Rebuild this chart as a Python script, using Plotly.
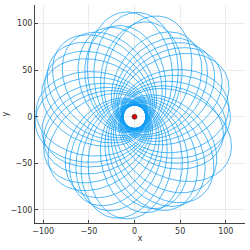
import numpy as np
import plotly.graph_objects as go

# Orbit description
periapsis = 12.5                 # radius of the empty hole around the centre
apsidal_angle_deg = 232.0        # angle swept from periapsis to apoapsis
apo_radius = [112, 108, 104, 110, 106, 101, 113, 103, 109, 102, 107, 111, 105, 100,
              112, 103, 108, 104, 110, 106, 101, 113, 104, 109, 102, 107, 111, 105,
              100, 108, 112, 103, 106, 110, 104, 101, 109, 107]
start_angle_deg = 200.0
center_x = [0.0]
center_y = [0.0]
x_ticks = [-100, -50, 0, 50, 100]
y_ticks = [-100, -50, 0, 50, 100]

k = 180.0 / apsidal_angle_deg
xs, ys = [], []
theta0 = np.deg2rad(start_angle_deg)
for ra in apo_radius:
    A = 0.5 * (1 / periapsis + 1 / ra)
    B = 0.5 * (1 / periapsis - 1 / ra)
    t = np.linspace(0, 2 * np.pi / k, 400)
    r = 1.0 / (A + B * np.cos(k * t))
    th = theta0 + t
    xs.extend(list(r * np.cos(th)))
    ys.extend(list(r * np.sin(th)))
    theta0 = th[-1]

fig = go.Figure()
fig.add_trace(go.Scatter(x=xs, y=ys, mode="lines",
                         line=dict(color="#0A9BF5", width=0.7), showlegend=False))
fig.add_trace(go.Scatter(x=center_x, y=center_y, mode="markers",
                         marker=dict(color="#E00000", size=5,
                                     line=dict(color="#333333", width=0.6)),
                         showlegend=False))

axis_common = dict(showgrid=True, gridcolor="#EBEBEB", gridwidth=0.6,
                   zeroline=False, showline=True, linecolor="#444444", linewidth=1,
                   ticks="inside", ticklen=3, tickcolor="#444444", automargin=False,
                   tickfont=dict(family="DejaVu Sans", size=8, color="#333333"),
                   title_font=dict(family="DejaVu Sans", size=8, color="#333333"))
fig.update_xaxes(range=[-109, 121], tickvals=x_ticks,
                 ticktext=[str(v).replace("-", "\u2212") for v in x_ticks],
                 title_text="x", title_standoff=0, **axis_common)
fig.update_yaxes(range=[-114, 120], tickvals=y_ticks,
                 ticktext=[str(v).replace("-", "\u2212") for v in y_ticks],
                 title_text="y", title_standoff=0, **axis_common)
fig.update_layout(width=250, height=250, margin=dict(l=35, r=5, t=5, b=27),
                  plot_bgcolor="white", paper_bgcolor="white")
fig.write_html("out.html", config={"displayModeBar": False},
               post_script="document.body.style.margin='0';")
